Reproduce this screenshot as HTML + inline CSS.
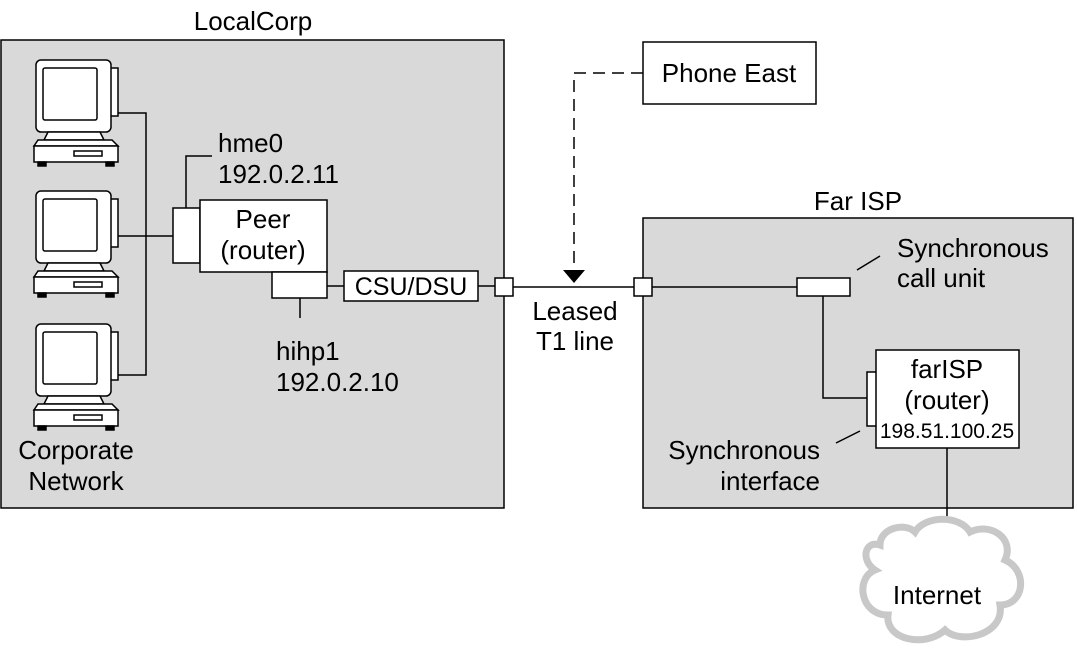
<!DOCTYPE html>
<html><head><meta charset="utf-8"><style>
html,body{margin:0;padding:0;background:#fff;}
svg{display:block;}
text{font-family:"Liberation Sans",Arial,sans-serif;font-size:26px;fill:#000;}
</style></head><body>
<svg width="1077" height="651" viewBox="0 0 1077 651" xmlns="http://www.w3.org/2000/svg">
<defs>
<g id="pc" stroke="#000" stroke-width="1.5" fill="#fff">
  <rect x="104" y="8" width="14" height="48" fill="#fff"/>
  <rect x="36" y="0" width="75" height="72" rx="5"/>
  <rect x="43" y="8" width="54" height="52" rx="2" fill="#fff"/>
  <path d="M48 72 L100 72 L104 80 L44 80 Z"/>
  <path d="M38 80 L112 80 L118 86 L34 86 Z"/>
  <rect x="34" y="86" width="84" height="16"/>
  <rect x="74" y="91" width="28" height="5"/>
  <rect x="38" y="102" width="8" height="4" fill="#000"/>
  <rect x="106" y="102" width="8" height="4" fill="#000"/>
</g>
</defs>
<text x="253" y="30" text-anchor="middle">LocalCorp</text>
<rect x="1" y="40" width="503" height="468" fill="#d9d9d9" stroke="#000" stroke-width="1.5"/>
<text x="858" y="210" text-anchor="middle">Far ISP</text>
<rect x="643" y="218" width="430" height="290" fill="#d9d9d9" stroke="#000" stroke-width="1.5"/>
<rect x="643" y="42" width="173" height="62" fill="#fff" stroke="#000" stroke-width="1.5"/>
<text x="729" y="82" text-anchor="middle">Phone East</text>

<g stroke="#000" stroke-width="1.5" fill="none">
  <polyline points="118,113 146,113 146,375 118,375"/>
  <line x1="118" y1="236" x2="173" y2="236"/>
  <polyline points="186,208 186,156 212,156"/>
  <line x1="300" y1="298" x2="300" y2="318"/>
  <line x1="327" y1="286" x2="344" y2="286"/>
  <line x1="478" y1="286" x2="495" y2="286"/>
  <line x1="513" y1="287" x2="634" y2="287"/>
  <line x1="652" y1="287" x2="797" y2="287"/>
  <line x1="857" y1="270" x2="880" y2="256"/>
  <polyline points="823,296 823,398 867,398"/>
  <line x1="836" y1="443" x2="860" y2="431"/>
  <line x1="947" y1="448" x2="947" y2="535"/>
  <polyline points="643,73 574,73 574,270" stroke-dasharray="12,7"/>
</g>
<path d="M563 270 L585 270 L574 283 Z" fill="#000"/>

<use href="#pc" x="0" y="60"/>
<use href="#pc" x="0" y="191"/>
<use href="#pc" x="0" y="324"/>

<rect x="173" y="208" width="27" height="55" fill="#fff" stroke="#000" stroke-width="1.5"/>
<rect x="200" y="200" width="127" height="72" fill="#fff" stroke="#000" stroke-width="1.5"/>
<text x="263" y="228" text-anchor="middle">Peer</text>
<text x="263" y="259" text-anchor="middle">(router)</text>
<rect x="272" y="272" width="55" height="26" fill="#fff" stroke="#000" stroke-width="1.5"/>
<rect x="344" y="271" width="134" height="30" fill="#fff" stroke="#000" stroke-width="1.5"/>
<text x="411" y="295" text-anchor="middle" style="font-size:25px">CSU/DSU</text>
<rect x="495" y="278" width="18" height="18" fill="#fff" stroke="#000" stroke-width="1.5"/>
<rect x="634" y="278" width="18" height="18" fill="#fff" stroke="#000" stroke-width="1.5"/>
<rect x="797" y="278" width="53" height="18" fill="#fff" stroke="#000" stroke-width="1.5"/>
<rect x="867" y="372" width="10" height="54" fill="#fff" stroke="#000" stroke-width="1.5"/>
<rect x="876" y="350" width="143" height="98" fill="#fff" stroke="#000" stroke-width="1.5"/>
<text x="947" y="378" text-anchor="middle">farISP</text>
<text x="947" y="409" text-anchor="middle">(router)</text>
<text x="947" y="438" text-anchor="middle" style="font-size:21px">198.51.100.25</text>

<text x="218" y="152">hme0</text>
<text x="218" y="183">192.0.2.11</text>
<text x="276" y="360">hihp1</text>
<text x="276" y="391">192.0.2.10</text>
<text x="76" y="459" text-anchor="middle">Corporate</text>
<text x="76" y="490" text-anchor="middle">Network</text>
<text x="575" y="320" text-anchor="middle">Leased</text>
<text x="575" y="350" text-anchor="middle">T1 line</text>
<text x="897" y="257">Synchronous</text>
<text x="897" y="287">call unit</text>
<text x="820" y="459" text-anchor="end">Synchronous</text>
<text x="820" y="490" text-anchor="end">interface</text>

<path d="M880 545 C880 528 905 522 915 532 C925 515 960 515 970 532 C990 522 1015 538 1005 560 C1028 570 1025 605 1000 605 C1005 635 960 645 945 630 C925 648 885 640 888 615 C860 615 855 578 875 570 C860 560 865 540 880 545 Z" fill="#fff" stroke="#c8c8c8" stroke-width="7"/>
<text x="937" y="604" text-anchor="middle">Internet</text>
</svg>
</body></html>
